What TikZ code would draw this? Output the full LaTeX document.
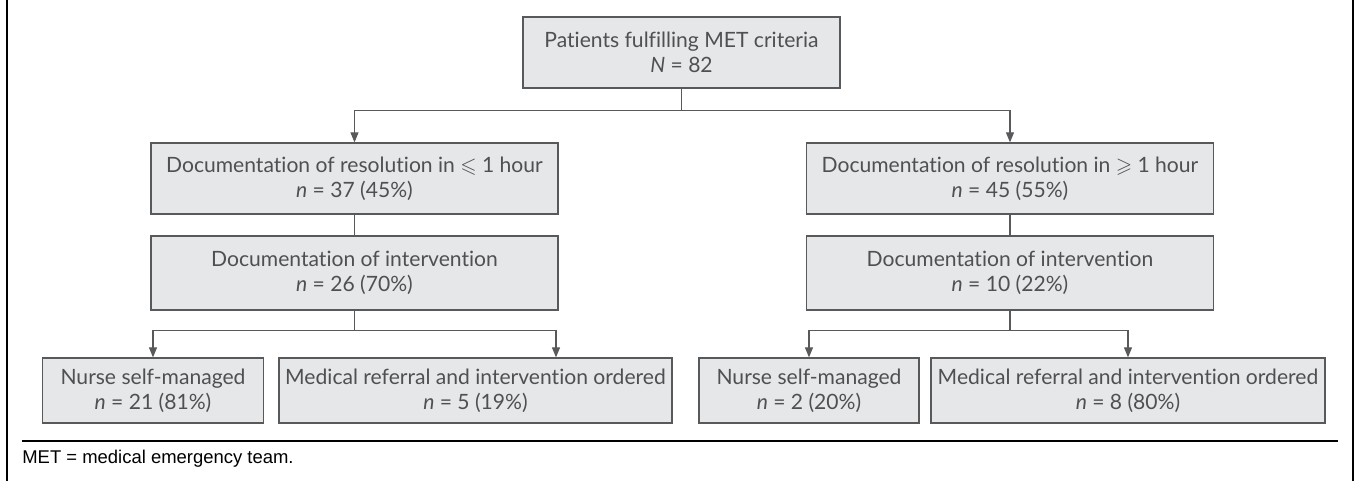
\documentclass[tikz,border=0pt]{standalone}
\usepackage{fontspec}
\usepackage{amssymb}
\setmainfont{Lato}[Ligatures=NoCommon]
\newfontfamily\notefont{Liberation Sans}
\usetikzlibrary{arrows.meta}
\definecolor{boxfill}{RGB}{230,231,232}
\definecolor{boxline}{RGB}{88,89,91}
\definecolor{ink}{RGB}{80,80,82}
\tikzset{block/.style = {draw=boxline, fill=boxfill, line width=0.7pt, rectangle, text=ink, align=center, inner sep=0pt, minimum height=1.42cm, font=\fontsize{12}{14}\selectfont},
         lvlblock/.style = {block, minimum width=8.14cm},
         leaf/.style = {block, minimum height=1.3cm},
         link/.style = {draw=boxline, line width=0.6pt},
         arr/.style = {link, -{Triangle[length=2mm,width=1.6mm]}},
         rule/.style = {line width=1.2pt}}

\begin{document}
\begin{tikzpicture}
    \useasboundingbox (0,0) rectangle (27.12,9.62);
    \node[block, minimum width=6.34cm](top)at(13.63,8.57){Patients fulfilling MET criteria\\ \textit{N} = 82};

    \node[lvlblock](resa)at(7.09,6.05){Documentation of resolution in $\leqslant$ 1 hour\\ \textit{n} = 37 (45\%)};
    \node[lvlblock, minimum height=1.48cm](doca)at(7.09,4.16){Documentation of intervention\\ \textit{n} = 26 (70\%)};
    \node[lvlblock](resb)at(20.20,6.05){Documentation of resolution in $\geqslant$ 1 hour\\ \textit{n} = 45 (55\%)};
    \node[lvlblock, minimum height=1.48cm](docb)at(20.20,4.16){Documentation of intervention\\ \textit{n} = 10 (22\%)};

    \node[leaf, minimum width=4.42cm](nsa)at(3.06,1.81){Nurse self-managed\\ \textit{n} = 21 (81\%)};
    \node[leaf, minimum width=7.86cm](mra)at(9.51,1.81){Medical referral and intervention ordered\\ \textit{n} = 5 (19\%)};
    \node[leaf, minimum width=4.40cm](nsb)at(16.18,1.81){Nurse self-managed\\ \textit{n} = 2 (20\%)};
    \node[leaf, minimum width=7.88cm](mrb)at(22.56,1.81){Medical referral and intervention ordered\\ \textit{n} = 8 (80\%)};

    % splits
    \draw[link](top.south)--++(0,-0.44)coordinate(split);
    \draw[arr](split)-|(resa.north);
    \draw[arr](split)-|(resb.north);
    \draw[link](resa)--(doca);
    \draw[link](resb)--(docb);

    \draw[link](doca.south)--++(0,-0.40)coordinate(splita);
    \draw[arr](splita)-|(nsa.north);
    \draw[arr](splita)-|([xshift=1.61cm]mra.north);
    \draw[link](docb.south)--++(0,-0.40)coordinate(splitb);
    \draw[arr](splitb)-|(nsb.north);
    \draw[arr](splitb)-|(mrb.north);

    % frame and footnote
    \draw[rule](0.14,0)--(0.14,9.62);
    \draw[rule](27.06,0)--(27.06,9.62);
    \draw[rule](0.44,0.80)--(26.76,0.80);
    \node[anchor=west, inner sep=0pt, font=\notefont\fontsize{10.5}{12}\selectfont](note)at(0.44,0.44){MET = medical emergency team.};
\end{tikzpicture}
\end{document}
